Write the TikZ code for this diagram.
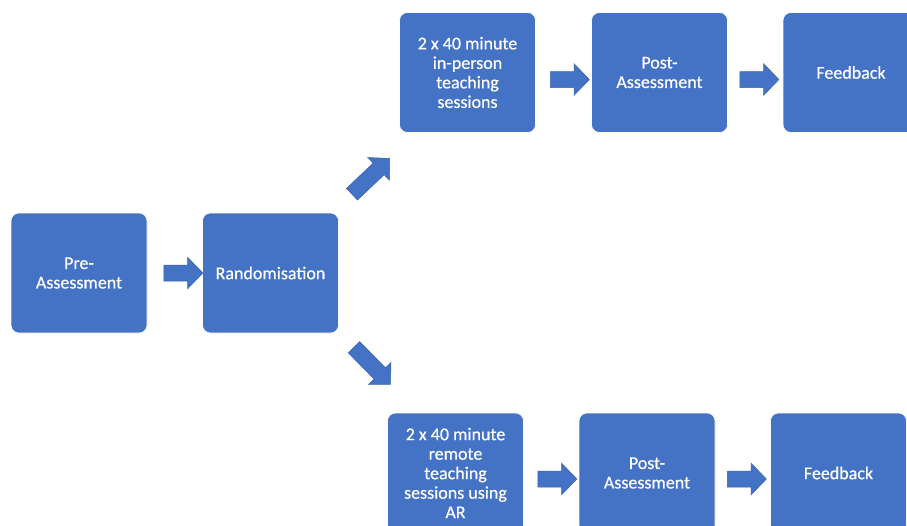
\documentclass[tikz,border=0pt]{standalone}
\usepackage{fontspec}
\setmainfont{Carlito}
\newfontfamily\boxfont{Carlito}[BoldFont=Carlito, BoldFeatures={FakeBold=0.5}]
\usetikzlibrary{shapes.arrows}
\definecolor{boxblue}{HTML}{4472C4}
\definecolor{arrowedge}{HTML}{3A64B0}
\tikzset{
  stepbox/.style={rectangle, rounded corners=8pt, fill=boxblue, draw=white, line width=0.6pt,
    minimum width=136pt, minimum height=120pt, inner sep=2pt, text=white, align=center,
    font=\boxfont\bfseries\fontsize{18}{19.5}\selectfont},
  blockarrow/.style={single arrow, fill=boxblue, draw=arrowedge, line width=0.5pt,
    inner sep=0pt, inner ysep=7.75pt, single arrow head extend=7.75pt,
    single arrow tip angle=92, minimum height=#1},
  blockarrow/.default=39pt
}
\begin{document}
\begin{tikzpicture}[x=1pt,y=-1pt]
\useasboundingbox (0,0) rectangle (907,525);
\clip (0,0) rectangle (907,525);
\node[stepbox] (pre) at (79,273) {Pre-\\Assessment};
\node[stepbox] (rand) at (270.5,273) {Randomisation};
\node[stepbox] (teachA) at (467.5,72.5) {2 x 40 minute\\in-person\\teaching\\sessions};
\node[stepbox] (postA) at (659.5,72.5) {Post-\\Assessment};
\node[stepbox] (feedA) at (851,72.5) {Feedback};
\node[stepbox] (teachB) at (455.5,473) {2 x 40 minute\\remote\\teaching\\sessions using\\AR};
\node[stepbox] (postB) at (647,473) {Post-\\Assessment};
\node[stepbox] (feedB) at (838.5,473) {Feedback};
\node[blockarrow] (a1) at (179.5,273) {};
\node[blockarrow=52pt, rotate=43.5] (a2) at (368,179) {};
\node[blockarrow=52pt, rotate=-45.5] (a3) at (369.5,363) {};
\node[blockarrow] (a4) at (566,79.5) {};
\node[blockarrow] (a5) at (755.5,79.5) {};
\node[blockarrow] (a6) at (553.5,479) {};
\node[blockarrow] (a7) at (743,479) {};
\end{tikzpicture}
\end{document}
